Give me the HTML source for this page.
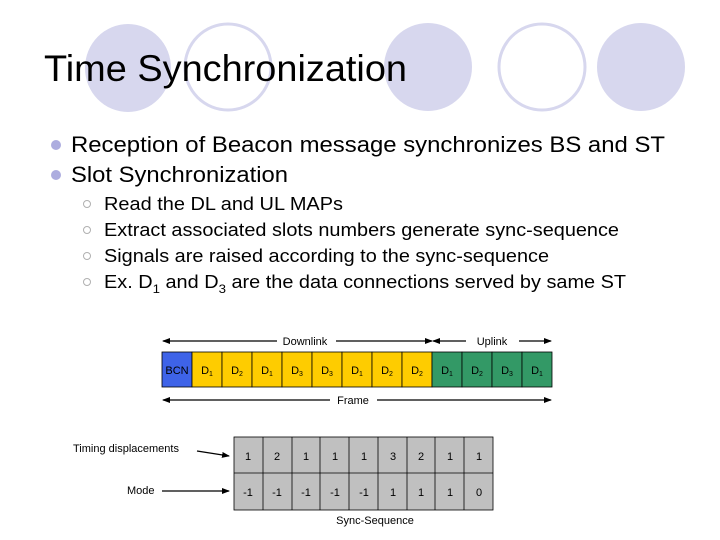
<!DOCTYPE html>
<html><head><meta charset="utf-8"><style>
html,body{margin:0;padding:0;background:#fff}
svg{display:block}
text{font-family:"Liberation Sans",Arial,sans-serif}
</style></head><body>
<svg width="720" height="540" viewBox="0 0 720 540" xmlns="http://www.w3.org/2000/svg">
<defs>
<marker id="ar" markerWidth="8" markerHeight="6" refX="7" refY="3" orient="auto" markerUnits="userSpaceOnUse"><path d="M0,0 L8,3 L0,6 Z" fill="#000"/></marker>
<marker id="al" markerWidth="8" markerHeight="6" refX="1" refY="3" orient="auto" markerUnits="userSpaceOnUse"><path d="M8,0 L0,3 L8,6 Z" fill="#000"/></marker>
</defs>
<ellipse cx="128" cy="68" rx="43" ry="44" fill="#d7d7ee"/>
<circle cx="228" cy="67" r="43" fill="none" stroke="#d7d7ee" stroke-width="3"/>
<ellipse cx="428" cy="67" rx="44" ry="44" fill="#d7d7ee"/>
<circle cx="542" cy="67" r="43" fill="none" stroke="#d7d7ee" stroke-width="3"/>
<ellipse cx="641" cy="67" rx="44" ry="44" fill="#d7d7ee"/>
<text x="44" y="81" font-size="37" textLength="363" lengthAdjust="spacingAndGlyphs">Time Synchronization</text>
<circle cx="56" cy="145" r="5" fill="#acacdf"/>
<circle cx="56" cy="175" r="5" fill="#acacdf"/>
<text x="71" y="152" font-size="22" textLength="594" lengthAdjust="spacingAndGlyphs">Reception of Beacon message synchronizes BS and ST</text>
<text x="71" y="182" font-size="22" textLength="217" lengthAdjust="spacingAndGlyphs">Slot Synchronization</text>
<g fill="none" stroke="#b0b0b0" stroke-width="1">
<circle cx="87" cy="204" r="3.5"/><circle cx="87" cy="230" r="3.5"/><circle cx="87" cy="256" r="3.5"/><circle cx="87" cy="282" r="3.5"/>
</g>
<g font-size="18">
<text x="104" y="210" textLength="239" lengthAdjust="spacingAndGlyphs">Read the DL and UL MAPs</text>
<text x="104" y="236" textLength="515" lengthAdjust="spacingAndGlyphs">Extract associated slots numbers generate sync-sequence</text>
<text x="104" y="262" textLength="445" lengthAdjust="spacingAndGlyphs">Signals are raised according to the sync-sequence</text>
<text x="104" y="288" textLength="522" lengthAdjust="spacingAndGlyphs">Ex. D<tspan font-size="12" dy="5">1</tspan><tspan dy="-5"> and D</tspan><tspan font-size="12" dy="5">3</tspan><tspan dy="-5"> are the data connections served by same ST</tspan></text>
</g>
<g stroke="#000" stroke-width="1.3">
<line x1="163" y1="341" x2="277" y2="341" marker-start="url(#al)"/>
<line x1="336" y1="341" x2="432" y2="341" marker-end="url(#ar)"/>
<line x1="433" y1="341" x2="466" y2="341" marker-start="url(#al)"/>
<line x1="519" y1="341" x2="551" y2="341" marker-end="url(#ar)"/>
<line x1="163" y1="400" x2="330" y2="400" marker-start="url(#al)"/>
<line x1="377" y1="400" x2="551" y2="400" marker-end="url(#ar)"/>
</g>
<g font-size="11" text-anchor="middle" fill="#000">
<text x="305" y="345">Downlink</text>
<text x="492" y="345">Uplink</text>
<text x="353" y="404">Frame</text>
</g>
<rect x="162" y="352" width="30" height="35" fill="#3e63e8" stroke="#000" stroke-width="0.8"/>
<g fill="#fecc00" stroke="#000" stroke-width="0.8">
<rect x="192" y="352" width="30" height="35"/><rect x="222" y="352" width="30" height="35"/><rect x="252" y="352" width="30" height="35"/><rect x="282" y="352" width="30" height="35"/><rect x="312" y="352" width="30" height="35"/><rect x="342" y="352" width="30" height="35"/><rect x="372" y="352" width="30" height="35"/><rect x="402" y="352" width="30" height="35"/>
</g>
<g fill="#339966" stroke="#000" stroke-width="0.8">
<rect x="432" y="352" width="30" height="35"/><rect x="462" y="352" width="30" height="35"/><rect x="492" y="352" width="30" height="35"/><rect x="522" y="352" width="30" height="35"/>
</g>
<g font-size="11" fill="#000" text-anchor="middle">
<text x="177" y="374">BCN</text>
<text x="207" y="374">D<tspan font-size="7" dy="2">1</tspan></text>
<text x="237" y="374">D<tspan font-size="7" dy="2">2</tspan></text>
<text x="267" y="374">D<tspan font-size="7" dy="2">1</tspan></text>
<text x="297" y="374">D<tspan font-size="7" dy="2">3</tspan></text>
<text x="327" y="374">D<tspan font-size="7" dy="2">3</tspan></text>
<text x="357" y="374">D<tspan font-size="7" dy="2">1</tspan></text>
<text x="387" y="374">D<tspan font-size="7" dy="2">2</tspan></text>
<text x="417" y="374">D<tspan font-size="7" dy="2">2</tspan></text>
<text x="447" y="374">D<tspan font-size="7" dy="2">1</tspan></text>
<text x="477" y="374">D<tspan font-size="7" dy="2">2</tspan></text>
<text x="507" y="374">D<tspan font-size="7" dy="2">3</tspan></text>
<text x="537" y="374">D<tspan font-size="7" dy="2">1</tspan></text>
</g>
<rect x="234" y="437" width="259" height="73" fill="#c0c0c0" stroke="#000" stroke-width="0.8"/>
<g stroke="#000" stroke-width="0.8">
<line x1="234" y1="473" x2="493" y2="473"/>
<line x1="263" y1="437" x2="263" y2="510"/><line x1="292" y1="437" x2="292" y2="510"/><line x1="320" y1="437" x2="320" y2="510"/><line x1="349" y1="437" x2="349" y2="510"/><line x1="378" y1="437" x2="378" y2="510"/><line x1="407" y1="437" x2="407" y2="510"/><line x1="435" y1="437" x2="435" y2="510"/><line x1="464" y1="437" x2="464" y2="510"/>
</g>
<g font-size="11" text-anchor="middle" fill="#000">
<text x="248" y="460">1</text><text x="277" y="460">2</text><text x="306" y="460">1</text><text x="335" y="460">1</text><text x="364" y="460">1</text><text x="393" y="460">3</text><text x="421" y="460">2</text><text x="450" y="460">1</text><text x="479" y="460">1</text>
<text x="248" y="496">-1</text><text x="277" y="496">-1</text><text x="306" y="496">-1</text><text x="335" y="496">-1</text><text x="364" y="496">-1</text><text x="393" y="496">1</text><text x="421" y="496">1</text><text x="450" y="496">1</text><text x="479" y="496">0</text>
<text x="375" y="524">Sync-Sequence</text>
</g>
<g font-size="11" fill="#000">
<text x="73" y="452">Timing displacements</text>
<text x="127" y="494">Mode</text>
</g>
<g stroke="#000" stroke-width="1.3">
<line x1="197" y1="451" x2="229" y2="456" marker-end="url(#ar)"/>
<line x1="162" y1="491" x2="229" y2="491" marker-end="url(#ar)"/>
</g>
</svg>
</body></html>
